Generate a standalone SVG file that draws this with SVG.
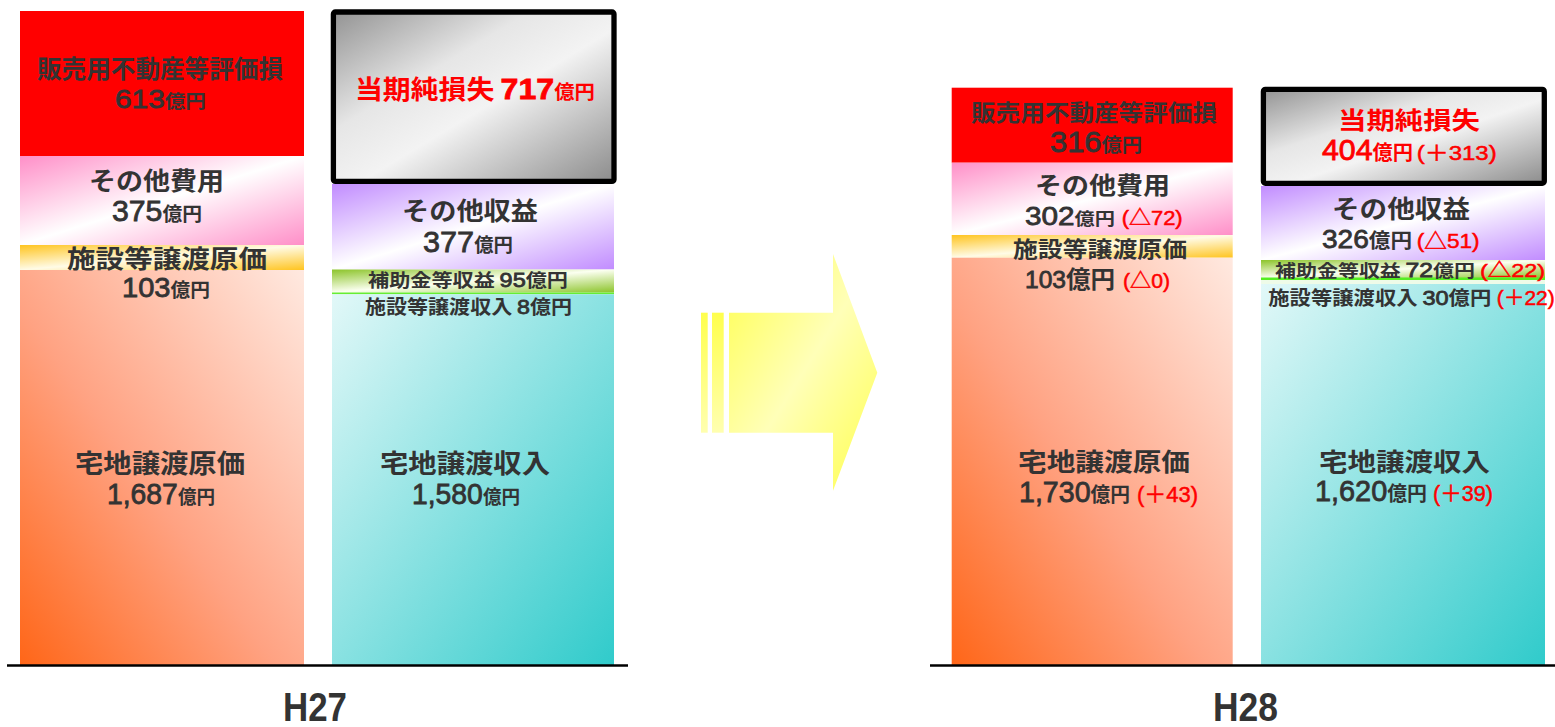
<svg xmlns="http://www.w3.org/2000/svg" width="1555" height="727" viewBox="0 0 1555 727">
<defs>
<linearGradient id="gPink" x1="0" y1="0" x2="1" y2="1"><stop offset="0" stop-color="#ff8fc8"/><stop offset="0.5" stop-color="#ffffff"/><stop offset="1" stop-color="#ff8fc8"/></linearGradient>
<linearGradient id="gYel" x1="0" y1="0" x2="1" y2="1"><stop offset="0" stop-color="#ffc41f"/><stop offset="0.5" stop-color="#fffbe6"/><stop offset="1" stop-color="#ffc41f"/></linearGradient>
<linearGradient id="gSal" x1="0" y1="1" x2="1" y2="0"><stop offset="0" stop-color="#ff6618"/><stop offset="0.45" stop-color="#ffa282"/><stop offset="1" stop-color="#ffe9e0"/></linearGradient>
<linearGradient id="gGray" x1="0" y1="0" x2="1" y2="1"><stop offset="0" stop-color="#939393"/><stop offset="0.35" stop-color="#e6e6e6"/><stop offset="0.55" stop-color="#f3f3f3"/><stop offset="1" stop-color="#8c8c8c"/></linearGradient>
<linearGradient id="gPur" x1="0" y1="0" x2="1" y2="1"><stop offset="0" stop-color="#c18cff"/><stop offset="0.5" stop-color="#ffffff"/><stop offset="1" stop-color="#c18cff"/></linearGradient>
<linearGradient id="gGrn" x1="0" y1="0" x2="1" y2="1"><stop offset="0" stop-color="#8cc42a"/><stop offset="0.5" stop-color="#fbfff0"/><stop offset="1" stop-color="#8cc42a"/></linearGradient>
<linearGradient id="gCyan" x1="0" y1="0" x2="1" y2="1"><stop offset="0" stop-color="#e2f8f8"/><stop offset="1" stop-color="#30cbcb"/></linearGradient>
<linearGradient id="gArrow" x1="0" y1="0" x2="1" y2="1"><stop offset="0" stop-color="#ffff4d"/><stop offset="0.5" stop-color="#ffffb8"/><stop offset="1" stop-color="#ffff4d"/></linearGradient>
<linearGradient id="gBar" x1="0" y1="0" x2="0" y2="1"><stop offset="0" stop-color="#ffff4d"/><stop offset="1" stop-color="#ffffb0"/></linearGradient>
<style>
.t{font-family:"Noto Sans CJK JP","Noto Sans CJK SC",sans-serif;font-weight:700;fill:#333333}
.n{font-family:"Liberation Sans","Noto Sans CJK JP",sans-serif;fill:#333333;stroke:#333333;stroke-width:0.8}
.u{font-family:"Noto Sans CJK JP","Noto Sans CJK SC",sans-serif;font-weight:700;stroke:none}
.p{font-family:"Liberation Sans","Noto Sans CJK JP",sans-serif;fill:#ff0000;stroke:#ff0000;stroke-width:0.5}
.red{fill:#ff0000;stroke:#ff0000}
.box{stroke:#000000;stroke-width:5.3}
.base{stroke:#000000;stroke-width:2.5}
.yr{font-family:"Liberation Sans",sans-serif;font-weight:700;fill:#333333;font-size:40px}
</style>
</defs>

<!-- H27 expenses -->
<g id="h27-valuation-loss">
<rect x="20" y="11" width="284" height="145" fill="#ff0000"/>
<text class="t" x="37" y="78" font-size="25" textLength="246" lengthAdjust="spacingAndGlyphs">販売用不動産等評価損</text>
<text class="n" x="115" y="108" font-size="26" textLength="91" lengthAdjust="spacingAndGlyphs">613<tspan class="u" font-size="18">億円</tspan></text>
</g>
<g id="h27-other-expenses">
<rect x="20" y="156" width="284" height="89" fill="url(#gPink)"/>
<text class="t" x="89" y="190" font-size="25" textLength="135" lengthAdjust="spacingAndGlyphs">その他費用</text>
<text class="n" x="112" y="221" font-size="29" textLength="90" lengthAdjust="spacingAndGlyphs">375<tspan class="u" font-size="19">億円</tspan></text>
</g>
<g id="h27-facility-cost">
<rect x="20" y="245" width="284" height="25" fill="url(#gYel)"/>
</g>
<g id="h27-land-cost">
<rect x="20" y="270" width="284" height="395" fill="url(#gSal)"/>
<text class="n" x="122" y="297" font-size="28" textLength="88" lengthAdjust="spacingAndGlyphs">103<tspan class="u" font-size="19">億円</tspan></text>
<text class="t" x="75" y="473" font-size="26" textLength="170" lengthAdjust="spacingAndGlyphs">宅地譲渡原価</text>
<text class="n" x="107" y="504" font-size="29" textLength="108" lengthAdjust="spacingAndGlyphs">1,687<tspan class="u" font-size="19">億円</tspan></text>
</g>
<text class="t" x="67" y="268" font-size="24.5" textLength="200" lengthAdjust="spacingAndGlyphs">施設等譲渡原価</text>

<!-- H27 revenues -->
<g id="h27-net-loss">
<rect x="333.4" y="12" width="280.6" height="169.4" rx="2" fill="url(#gGray)" class="box"/>
<text class="t red" x="355" y="99" font-size="26" stroke-width="0" textLength="240" lengthAdjust="spacingAndGlyphs">当期純損失 <tspan class="n red" font-size="30" stroke-width="0.8">717</tspan><tspan class="u" font-size="19">億円</tspan></text>
</g>
<g id="h27-other-revenue">
<rect x="332" y="184" width="282" height="85.5" fill="url(#gPur)"/>
<text class="t" x="402" y="220" font-size="25" textLength="136" lengthAdjust="spacingAndGlyphs">その他収益</text>
<text class="n" x="423" y="251.7" font-size="30" textLength="90" lengthAdjust="spacingAndGlyphs">377<tspan class="u" font-size="19">億円</tspan></text>
</g>
<g id="h27-subsidy">
<rect x="332" y="269.5" width="282" height="23" fill="url(#gGrn)"/>
<rect x="332" y="292.5" width="282" height="1.8" fill="#66ee33"/>
</g>
<g id="h27-land-revenue">
<rect x="332" y="294.3" width="282" height="370.7" fill="url(#gCyan)"/>
<text class="t" x="380" y="472.5" font-size="26" textLength="170" lengthAdjust="spacingAndGlyphs">宅地譲渡収入</text>
<text class="n" x="412" y="504" font-size="29" textLength="108" lengthAdjust="spacingAndGlyphs">1,580<tspan class="u" font-size="19">億円</tspan></text>
</g>
<text class="t" x="368" y="287" font-size="18" textLength="200" lengthAdjust="spacingAndGlyphs">補助金等収益 <tspan class="n" font-weight="400" font-size="20">95</tspan>億円</text>
<text class="t" x="365" y="314" font-size="19" textLength="207" lengthAdjust="spacingAndGlyphs">施設等譲渡収入 <tspan class="n" font-weight="400" font-size="21">8</tspan>億円</text>

<line class="base" x1="7" y1="665.5" x2="628" y2="665.5"/>
<text class="yr" x="283" y="721" textLength="64" lengthAdjust="spacingAndGlyphs">H27</text>

<!-- arrow -->
<g id="connectors">
<rect x="701" y="312.7" width="6.7" height="120" fill="url(#gBar)"/>
<rect x="712" y="312.7" width="11.7" height="120" fill="url(#gBar)"/>
<polygon points="729,312.7 833,312.7 833,254 877.3,372.7 833,490.7 833,432.7 729,432.7" fill="url(#gArrow)"/>
</g>

<!-- H28 expenses -->
<g id="h28-valuation-loss">
<rect x="951.7" y="87.7" width="281" height="75" fill="#ff0000"/>
<text class="t" x="971" y="121" font-size="23" textLength="246" lengthAdjust="spacingAndGlyphs">販売用不動産等評価損</text>
<text class="n" x="1050" y="151.7" font-size="29" textLength="92" lengthAdjust="spacingAndGlyphs">316<tspan class="u" font-size="19">億円</tspan></text>
</g>
<g id="h28-other-expenses">
<rect x="951.7" y="162.7" width="281" height="72.3" fill="url(#gPink)"/>
<text class="t" x="1035" y="193.5" font-size="24" textLength="135" lengthAdjust="spacingAndGlyphs">その他費用</text>
<text class="n" x="1025" y="225" font-size="25" textLength="90" lengthAdjust="spacingAndGlyphs">302<tspan class="u" font-size="17">億円</tspan></text>
<text class="p" x="1121.7" y="225" font-size="20" textLength="61" lengthAdjust="spacingAndGlyphs">(△72)</text>
</g>
<g id="h28-facility-cost">
<rect x="951.7" y="235" width="281" height="22.7" fill="url(#gYel)"/>
</g>
<g id="h28-land-cost">
<rect x="951.7" y="257.7" width="281" height="407.3" fill="url(#gSal)"/>
<text class="n" x="1025" y="288.3" font-size="24" textLength="90" lengthAdjust="spacingAndGlyphs">103<tspan class="u" font-size="24">億円</tspan></text>
<text class="p" x="1123" y="288.3" font-size="20" textLength="47" lengthAdjust="spacingAndGlyphs">(△0)</text>
<text class="t" x="1018" y="471" font-size="25" textLength="172" lengthAdjust="spacingAndGlyphs">宅地譲渡原価</text>
<text class="n" x="1019" y="502" font-size="29" textLength="111" lengthAdjust="spacingAndGlyphs">1,730<tspan class="u" font-size="20">億円</tspan></text>
<text class="p" x="1137" y="502" font-size="22" textLength="61" lengthAdjust="spacingAndGlyphs">(＋43)</text>
</g>
<text class="t" x="1013" y="257" font-size="22" textLength="174" lengthAdjust="spacingAndGlyphs">施設等譲渡原価</text>

<!-- H28 revenues -->
<g id="h28-net-loss">
<rect x="1263.4" y="89.4" width="280.9" height="93.9" rx="2" fill="url(#gGray)" class="box"/>
<text class="t red" x="1338" y="128.5" font-size="24" stroke-width="0" textLength="142" lengthAdjust="spacingAndGlyphs">当期純損失</text>
<text class="n red" x="1322" y="160" font-size="30" textLength="91" lengthAdjust="spacingAndGlyphs">404<tspan class="u" font-size="20">億円</tspan></text>
<text class="p" x="1416.7" y="160" font-size="21" textLength="80" lengthAdjust="spacingAndGlyphs">(＋313)</text>
</g>
<g id="h28-other-revenue">
<rect x="1261" y="186" width="284" height="74" fill="url(#gPur)"/>
<text class="t" x="1332" y="218" font-size="25" textLength="138" lengthAdjust="spacingAndGlyphs">その他収益</text>
<text class="n" x="1322" y="248.3" font-size="26" textLength="90" lengthAdjust="spacingAndGlyphs">326<tspan class="u" font-size="20">億円</tspan></text>
<text class="p" x="1416.7" y="248.3" font-size="21" textLength="63" lengthAdjust="spacingAndGlyphs">(△51)</text>
</g>
<g id="h28-subsidy">
<rect x="1261" y="260" width="284" height="18" fill="url(#gGrn)"/>
<rect x="1261" y="277.5" width="284" height="2.5" fill="#55ee22"/>
<rect x="1261" y="280" width="284" height="4" fill="#eefbe8"/>
</g>
<g id="h28-land-revenue">
<rect x="1261" y="284" width="284" height="381" fill="url(#gCyan)"/>
<text class="t" x="1319" y="470.5" font-size="25" textLength="171" lengthAdjust="spacingAndGlyphs">宅地譲渡収入</text>
<text class="n" x="1315" y="501" font-size="29" textLength="112" lengthAdjust="spacingAndGlyphs">1,620<tspan class="u" font-size="20">億円</tspan></text>
<text class="p" x="1433" y="501" font-size="22" textLength="60" lengthAdjust="spacingAndGlyphs">(＋39)</text>
</g>
<text class="t" x="1275" y="276.5" font-size="17" textLength="200" lengthAdjust="spacingAndGlyphs">補助金等収益 <tspan class="n" font-weight="400" font-size="20">72</tspan>億円</text>
<text class="p" x="1480" y="276.5" font-size="19" textLength="65" lengthAdjust="spacingAndGlyphs">(△22)</text>
<text class="t" x="1268.3" y="305" font-size="19" textLength="223" lengthAdjust="spacingAndGlyphs">施設等譲渡収入 <tspan class="n" font-weight="400" font-size="21">30</tspan>億円</text>
<text class="p" x="1496.7" y="305" font-size="20" textLength="58" lengthAdjust="spacingAndGlyphs">(＋22)</text>

<line class="base" x1="930" y1="665.5" x2="1555" y2="665.5"/>
<text class="yr" x="1213" y="721" textLength="65" lengthAdjust="spacingAndGlyphs">H28</text>
</svg>
